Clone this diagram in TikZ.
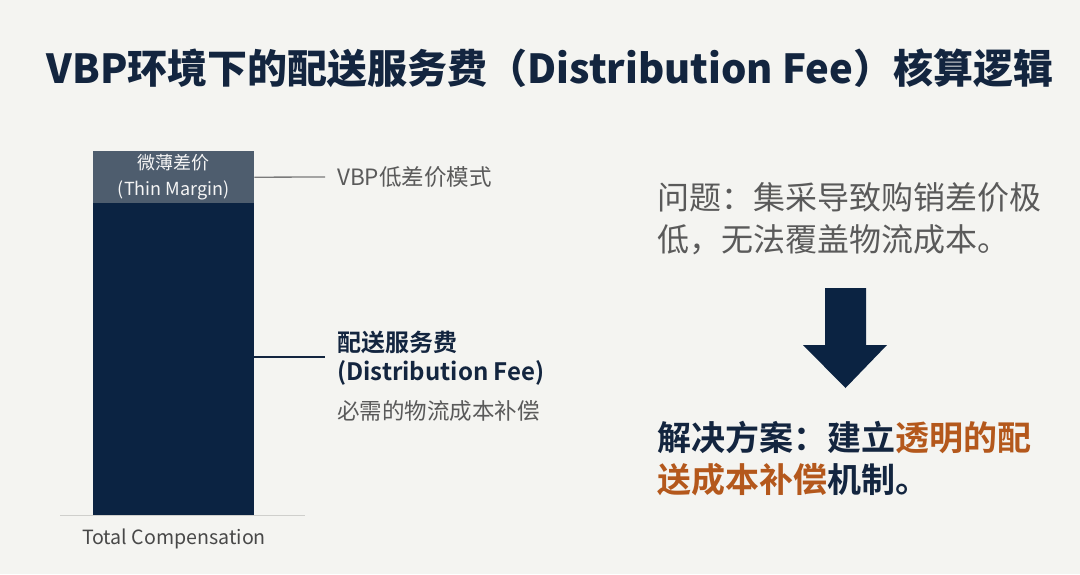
\documentclass[tikz,border=0pt]{standalone}
\usepackage{fontspec}
\setmainfont{Noto Sans CJK SC}[BoldFont={Noto Sans CJK SC Bold}]
\newfontfamily\titlefont{Noto Sans CJK SC Black}
\definecolor{bgc}{HTML}{F4F4F1}
\definecolor{navy}{HTML}{0B2342}
\definecolor{titlec}{HTML}{13253F}
\definecolor{thinc}{HTML}{4E5D6E}
\definecolor{grayt}{HTML}{5A5A5A}
\definecolor{orangec}{HTML}{B4581C}
\definecolor{basec}{HTML}{CFCFCC}
\definecolor{connc}{HTML}{7A7A7A}
\begin{document}
\begin{tikzpicture}[x=1pt,y=-1pt,
  barseg/.style={rectangle,inner sep=0,anchor=north west,minimum width=161pt},
  conn/.style={line width=1.3pt},
  txt/.style={inner sep=0,anchor=base west,align=left}]
\fill[bgc] (0,0) rectangle (1080,574);
\useasboundingbox (0,0) rectangle (1080,574);
% title
\node[inner sep=0,anchor=base,text=titlec,font=\fontsize{40}{48}\titlefont] (title) at (550,83) {VBP环境下的配送服务费（Distribution Fee）核算逻辑};
% bar
\node[barseg,fill=thinc,minimum height=52pt,text=white!92!gray,align=center,font=\fontsize{18}{26}\selectfont] (thin) at (93,151) {微薄差价\\(Thin Margin)};
\node[barseg,fill=navy,minimum height=312pt] (fee) at (93,203) {};
\coordinate (bl) at (60,515);
\coordinate (br) at (305,515);
\draw[basec,line width=1pt] (bl) -- (br);
\node[inner sep=0,anchor=base,text=grayt!80!black,font=\fontsize{19.6}{23}\selectfont] (total) at (174,544) {Total Compensation};
% labels
\node[inner ysep=0,inner xsep=12pt,anchor=west,text=grayt,font=\fontsize{22.5}{26}\selectfont] (vbp) at (325,177) {VBP低差价模式};
\draw[conn,connc] (thin.east) -- (vbp.west);
\coordinate (c2) at (325,357);
\draw[conn,titlec] (fee.east |- c2) -- (c2);
\node[txt,text=titlec,font=\fontsize{24}{29}\selectfont\bfseries] (feelbl) at (337,380) {配送服务费\\(Distribution Fee)};
\node[txt,text=grayt,font=\fontsize{22.5}{26}\selectfont] (feedesc) at (337,419) {必需的物流成本补偿};
% right side
\node[txt,text=grayt,font=\fontsize{32}{42}\selectfont] (prob) at (657,251.5) {问题：集采导致购销差价极\\低，无法覆盖物流成本。};
\fill[navy] (825,288) -- (866,288) -- (866,345) -- (887,345) -- (845.5,388) -- (803,345) -- (825,345) -- cycle;
\node[txt,text=titlec,font=\fontsize{34}{42}\selectfont\bfseries] (sol) at (657,492.5) {解决方案：建立\textcolor{orangec}{透明的配}\\\textcolor{orangec}{送成本补偿}机制。};
\end{tikzpicture}
\end{document}
